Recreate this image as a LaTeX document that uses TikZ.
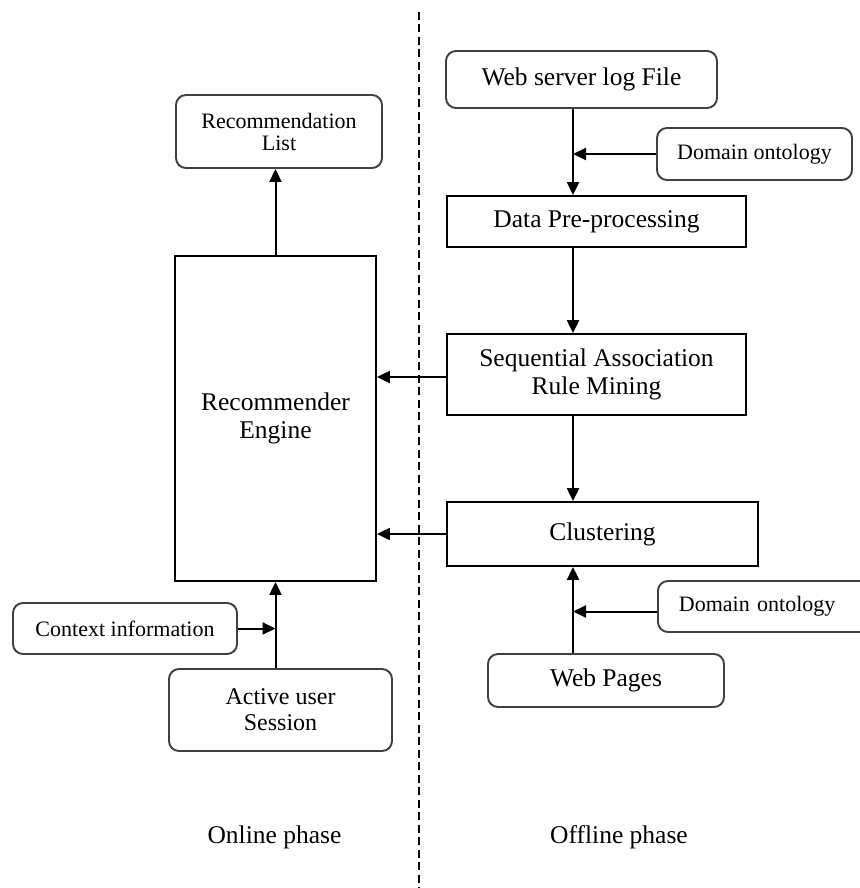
\documentclass[tikz,border=0pt]{standalone}
\usepackage{fontspec}
\setmainfont{Liberation Serif}
\usetikzlibrary{arrows.meta, positioning}

\begin{document}
\begin{tikzpicture}[
  x=1pt, y=-1pt,
  rbox/.style={draw=black!75, line width=1.9pt, rounded corners=10pt, align=center, inner sep=0pt, font=\fontsize{22}{22}\selectfont},
  sbox/.style={draw, line width=1.8pt, align=center, inner sep=0pt, font=\fontsize{25.5}{28}\selectfont},
  bigtext/.style={font=\fontsize{25.5}{28}\selectfont},
  arr/.style={line width=2pt, -{Triangle[length=13pt,width=12pt]}},
  divider/.style={line width=1.5pt, dash pattern=on 8pt off 4.5pt}
]
  \useasboundingbox (0,0) rectangle (859,888);
  \coordinate (top) at (419,12);
  \coordinate (bot) at (419,888);
  \coordinate (spine) at (573,0);
  \draw[divider] (top) -- (bot);

  % offline phase
  \node[rbox, bigtext, minimum width=271pt, minimum height=57pt] (log) at (581.5,79.5) {Web server log File};
  \node[rbox, minimum width=195pt, minimum height=52pt] (dom1) at (754.5,154) {Domain ontology};
  \node[sbox, minimum width=299pt, minimum height=51pt] (pre) at (596.5,221.5) {Data Pre-processing};
  \node[sbox, minimum width=299pt, minimum height=81pt] (sarm) at (596.5,374.5) {Sequential Association\\Rule Mining};
  \node[sbox, minimum width=311pt, minimum height=64pt] (clus) at (602.5,534) {Clustering};
  \node[rbox, anchor=west, align=left, text width=190pt, inner xsep=21pt, minimum height=51pt] (dom2) at (657,606.5) {Domain ontology};
  \node[rbox, bigtext, minimum width=236pt, minimum height=53pt] (web) at (606,680.5) {Web Pages};

  % online phase
  \node[rbox, minimum width=206pt, minimum height=73pt] (rec) at (279,131.5) {Recommendation\\List};
  \node[sbox, minimum width=201pt, minimum height=325pt] (eng) at (275.5,418.5) {Recommender\\Engine};
  \node[rbox, minimum width=224pt, minimum height=51pt] (ctx) at (125,628.5) {Context information};
  \node[rbox, font=\fontsize{24}{26}\selectfont, minimum width=223pt, minimum height=82pt] (sess) at (280.5,710) {Active user\\Session};

  \node[bigtext] (online) at (274.5,837) {Online phase};
  \node[bigtext] (offline) at (619,837) {Offline phase};

  \draw[arr] (log.south -| spine) -- (pre.north -| spine);
  \draw[arr] (dom1.west) -- (dom1.west -| spine);
  \draw[arr] (pre.south -| spine) -- (sarm.north -| spine);
  \draw[arr] (sarm.south -| spine) -- (clus.north -| spine);
  \draw[arr] (web.north -| spine) -- (clus.south -| spine);
  \draw[arr] ([yshift=-5pt]dom2.west) -- ([yshift=-5pt]dom2.west -| spine);
  \draw[arr] ([yshift=-2.5pt]sarm.west) -- ([yshift=-2.5pt]sarm.west -| eng.east);
  \draw[arr] (clus.west) -- (clus.west -| eng.east);
  \draw[arr] (eng.north) -- (eng.north |- rec.south);
  \draw[arr] (sess.north -| eng.south) -- (eng.south);
  \draw[arr] (ctx.east) -- (ctx.east -| eng.south);
\end{tikzpicture}
\end{document}
